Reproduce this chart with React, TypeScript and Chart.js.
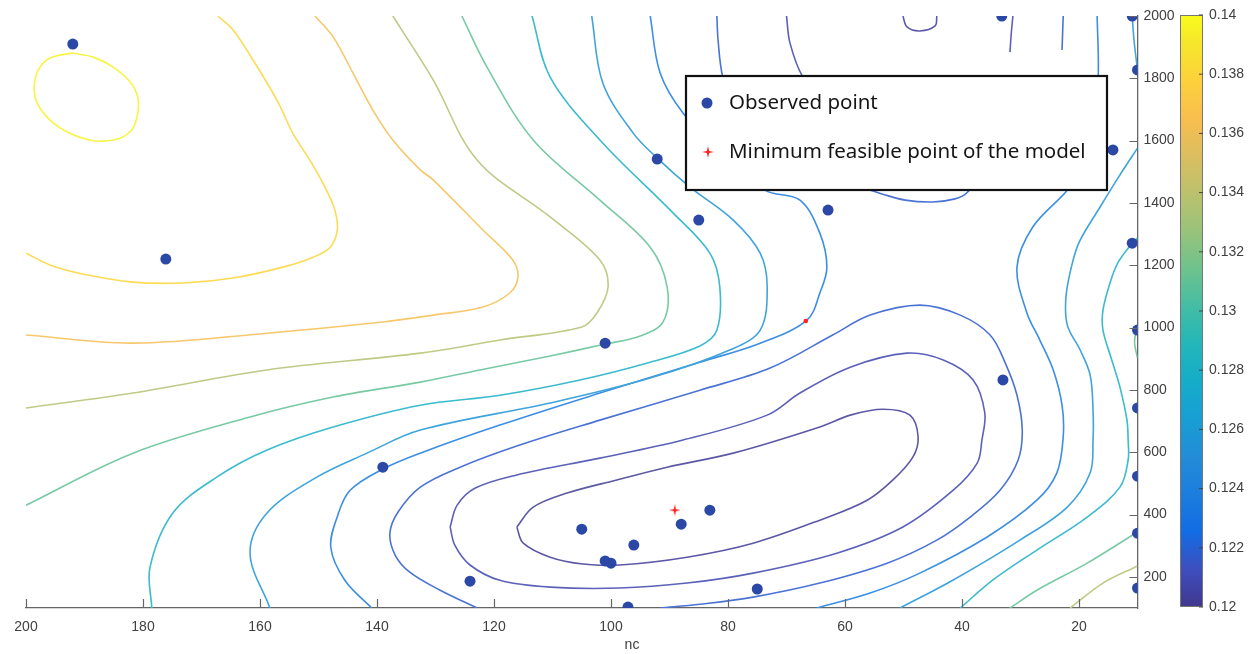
import React, { useEffect, useRef } from "react";
import { Chart, registerables } from "chart.js";
Chart.register(...registerables);

// ---------- axis ticks ----------
const X_TICKS = [200, 180, 160, 140, 120, 100, 80, 60, 40, 20];
const Y_TICKS = [200, 400, 600, 800, 1000, 1200, 1400, 1600, 1800, 2000];
const CBAR_TICKS = [0.12, 0.122, 0.124, 0.126, 0.128, 0.13, 0.132, 0.134, 0.136, 0.138, 0.14];
const CBAR_MIN = 0.12;
const CBAR_MAX = 0.14;

// ---------- observed points (nc, value) ----------
const OBS_NC = [192.0, 176.1, 92.1, 85.0, 62.9, 33.2, 10.9, 10, 14.2, 10.9, 10, 33.0, 10, 10, 10, 10, 101.0, 105.0, 88.0, 83.1, 96.1, 101.0, 100.0, 124.1, 75.0, 97.1, 139.0];
const OBS_Y = [1910, 1220, 1541, 1345, 1377, 2000, 2000, 1827, 1570, 1271, 992, 832, 742, 523, 340, 164, 950, 353, 369, 414, 302, 251, 244, 186, 161, 103, 552];

const MIN_NC = [89.1];
const MIN_Y = [414];
const MARK_NC = [66.7];
const MARK_Y = [1021];

// ---------- contour lines ([nc, y] pairs) ----------
const C_1396_LOOP = [[192.1,1881],[188.5,1868],[185.1,1836],[182.2,1788],[180.9,1740],[180.9,1689],[181.7,1640],[183.4,1612],[185.1,1602],[188.2,1599],[192.5,1624],[195.9,1666],[198.1,1721],[198.6,1772],[197.9,1827],[195.9,1865],[192.1,1881]];
const C_1380 = [[167.2,2000],[164.6,1955],[161.2,1859],[157.1,1730],[154.4,1624],[151.5,1538],[148.9,1451],[147.2,1377],[146.8,1313],[148.0,1258],[150.9,1226],[156.1,1194],[164.6,1159],[173.2,1143],[181.7,1146],[190.3,1172],[195.9,1201],[200,1239]];
const C_1364 = [[150.6,2000],[147.5,1933],[144.1,1817],[140.7,1698],[137.3,1602],[132.6,1506],[130.4,1474],[121.9,1313],[116.8,1217],[115.9,1162],[117.3,1111],[121.9,1066],[130.4,1040],[139.0,1018],[158.8,982],[181.7,950],[200,976]];
const C_1336_LEFT = [[137.3,2000],[136.1,1965],[130.4,1795],[122.9,1538],[110.4,1355],[101.9,1217],[100.5,1130],[102.4,1047],[105.0,1002],[119.0,960],[132.6,918],[158.8,864],[181.7,790],[200,742]];
const C_1336_RIGHT = [[10,235],[15.9,180],[21.5,100]];
const C_1310_LEFT = [[125.5,2000],[121.2,1836],[113.3,1602],[101.9,1409],[93.3,1258],[90.4,1130],[91.1,1018],[95.0,973],[101.0,947],[110.4,909],[122.4,864],[132.6,825],[147.5,777],[161.7,713],[181.7,597],[200,430]];
const C_1310_RIGHT = [[10,344],[18.6,244],[27.2,157],[31.8,100]];
const C_1310_EDGE = [[10,1005],[10.5,954],[10,902]];
const C_1280_LEFT = [[113.5,2000],[110.4,1804],[101.9,1602],[89.4,1368],[83.1,1239],[81.4,1130],[81.9,992],[84.8,941],[93.3,889],[105.3,832],[119.0,783],[132.6,751],[147.5,681],[158.8,607],[167.4,520],[174.9,405],[178.8,231],[178.5,100]];
const C_1280_RIGHT = [[10,1287],[10.9,1271],[13.3,1210],[14.7,1143],[15.9,1056],[15.9,992],[14.4,896],[13.0,809],[11.8,703],[11.6,639],[11.6,575],[13.0,488],[18.6,392],[27.2,286],[34.7,190],[40.3,100]];
const C_1256_LEFT = [[103.3,2000],[101.4,1785],[96.2,1624],[92.1,1544],[86.5,1451],[79.1,1345],[74.5,1239],[73.3,1130],[74.5,992],[79.7,928],[93.3,838],[110.4,758],[132.6,671],[141.7,597],[150.3,520],[158.8,405],[161.7,276],[158.3,100]];
const C_1256_RIGHT = [[10,1576],[13.0,1490],[16.4,1387],[19.8,1281],[21.0,1217],[22.2,1104],[22.0,1008],[19.8,928],[18.1,848],[17.6,735],[17.6,639],[18.1,533],[22.0,424],[30.1,318],[41.5,190],[50.6,100]];
const C_1256_CORNER = [[10.9,2000],[10.6,1923],[10,1827]];
const C_1236_LEFT = [[93.3,2000],[91.6,1817],[87.7,1689],[81.4,1570],[73.7,1441],[67.7,1409],[64.3,1303],[63.1,1194],[64.3,1111],[66.5,1024],[74.5,950],[84.8,889],[101.9,790],[119.0,687],[132.6,597],[139.0,546],[144.6,478],[146.7,398],[147.9,295],[145.5,189],[140.9,100]];
const C_1236_RIGHT = [[16.9,2000],[16.7,1817],[17.3,1666],[19.8,1506],[22.0,1441],[27.9,1323],[30.6,1194],[28.9,1047],[26.7,960],[24.4,864],[22.9,751],[22.7,649],[23.8,533],[27.2,446],[35.7,328],[47.2,212],[55.7,148],[64.8,100]];
const C_1218_MAIN = [[122.9,100],[129.2,157],[134.4,215],[136.9,270],[137.8,340],[136.4,408],[132.6,488],[125.8,552],[115.6,623],[101.9,703],[84.8,799],[72.8,870],[62.1,976],[55.7,1040],[47.2,1072],[40.3,1040],[35.2,976],[32.6,886],[30.6,783],[29.7,671],[30.4,575],[33.5,478],[38.6,392],[44.3,318],[52.8,244],[64.3,180],[75.7,135],[84.8,112],[91.6,100]];
const C_1218_TOP = [[81.9,2000],[81.7,1923],[80.9,1804],[78.0,1634],[67.7,1490],[55.7,1441],[53.7,1429],[49.7,1409],[45.0,1403],[41.2,1413],[39.2,1432],[36.1,1506],[33.5,1634]];
const C_1218_SEG = [[22.7,2000],[22.9,1891]];
const C_1208_LOOP = [[127.5,360],[126.3,430],[123.2,485],[116.1,527],[101.9,581],[87.7,639],[73.3,719],[67.7,790],[59.1,873],[49.4,918],[43.2,896],[38.1,832],[36.1,726],[36.6,639],[37.4,565],[41.5,478],[50.1,360],[61.4,276],[75.7,212],[87.0,180],[98.5,164],[110.4,167],[119.0,189],[124.1,238],[126.7,302],[127.5,360]];
const C_1208_TOP = [[70.0,2000],[69.4,1913],[67.2,1804],[62.6,1698]];
const C_1208_SEG = [[31.3,2000],[31.6,1939],[31.8,1884]];
const C_1202_LOOP = [[116.1,360],[113.3,424],[107.5,469],[99.0,511],[90.4,552],[79.1,597],[64.3,681],[59.1,719],[53.5,738],[48.9,719],[47.5,649],[48.4,584],[51.8,511],[56.2,446],[64.3,382],[75.7,308],[87.0,263],[98.5,238],[104.8,241],[110.4,263],[115.0,308],[116.1,360]];
const C_1202_CUP = [[50.1,2000],[49.4,1965],[47.2,1952],[44.6,1968],[44.3,2000]];

const CONTOURS: { level: number; pts: number[][] }[] = [
  { level: 0.1396, pts: C_1396_LOOP },
  { level: 0.138, pts: C_1380 },
  { level: 0.1364, pts: C_1364 },
  { level: 0.1336, pts: C_1336_LEFT },
  { level: 0.1336, pts: C_1336_RIGHT },
  { level: 0.131, pts: C_1310_LEFT },
  { level: 0.131, pts: C_1310_RIGHT },
  { level: 0.131, pts: C_1310_EDGE },
  { level: 0.128, pts: C_1280_LEFT },
  { level: 0.128, pts: C_1280_RIGHT },
  { level: 0.1256, pts: C_1256_LEFT },
  { level: 0.1256, pts: C_1256_RIGHT },
  { level: 0.1256, pts: C_1256_CORNER },
  { level: 0.1236, pts: C_1236_LEFT },
  { level: 0.1236, pts: C_1236_RIGHT },
  { level: 0.1218, pts: C_1218_MAIN },
  { level: 0.1218, pts: C_1218_TOP },
  { level: 0.1218, pts: C_1218_SEG },
  { level: 0.1208, pts: C_1208_LOOP },
  { level: 0.1208, pts: C_1208_TOP },
  { level: 0.1208, pts: C_1208_SEG },
  { level: 0.1202, pts: C_1202_LOOP },
  { level: 0.1202, pts: C_1202_CUP },
];

// ---------- styles ----------
const PARULA: number[][] = [
  [0, 53, 42, 135], [0.0635, 50, 67, 186], [0.127, 3, 99, 225], [0.19, 13, 117, 220],
  [0.254, 20, 133, 212], [0.317, 9, 152, 209], [0.381, 6, 167, 198], [0.444, 21, 177, 180],
  [0.508, 56, 185, 158], [0.571, 101, 190, 134], [0.635, 146, 191, 115], [0.698, 183, 189, 100],
  [0.762, 217, 186, 86], [0.825, 248, 186, 68], [0.889, 252, 206, 46], [0.952, 245, 228, 29],
  [1, 249, 251, 14],
];
function parula(t: number, wash: number): string {
  t = Math.max(0, Math.min(1, t));
  for (let i = 1; i < PARULA.length; i++) {
    const a = PARULA[i - 1], b = PARULA[i];
    if (t <= b[0]) {
      const f = (t - a[0]) / (b[0] - a[0]);
      const c = [1, 2, 3].map((k) => {
        const v = a[k] + (b[k] - a[k]) * f;
        return Math.round(v + (255 - v) * wash);
      });
      return `rgb(${c[0]},${c[1]},${c[2]})`;
    }
  }
  return "rgb(249,251,14)";
}
const levelColor = (v: number) => parula((v - CBAR_MIN) / (CBAR_MAX - CBAR_MIN), 0.2);

const AXIS = "#666666";
const TXT = "#404040";
const BLUE = "#2b48a6";
const RED = "#ff2020";
const TICK_FONT = "14px 'Liberation Sans', Arial, sans-serif";

function makeStar(size: number, color: string): HTMLCanvasElement {
  const c = document.createElement("canvas");
  c.width = size;
  c.height = size;
  const g = c.getContext("2d")!;
  const m = size / 2, R = size / 2, r = size * 0.13;
  g.beginPath();
  for (let i = 0; i < 8; i++) {
    const ang = -Math.PI / 2 + (i * Math.PI) / 4;
    const rad = i % 2 === 0 ? R : r;
    g.lineTo(m + rad * Math.cos(ang), m + rad * Math.sin(ang));
  }
  g.closePath();
  g.fillStyle = color;
  g.fill();
  return c;
}

export default function App() {
  const ref = useRef<HTMLCanvasElement>(null);
  useEffect(() => {
    const star = makeStar(12, RED);
    const decor = {
      id: "decor",
      beforeDraw(chart: any) {
        const { ctx } = chart;
        ctx.save();
        ctx.fillStyle = "#ffffff";
        ctx.fillRect(0, 0, chart.width, chart.height);
        ctx.restore();
      },
      afterDraw(chart: any) {
        const { ctx, chartArea: a, scales } = chart;
        const xs = scales.x, ys = scales.y;
        ctx.save();
        // inward tick marks
        ctx.strokeStyle = AXIS;
        ctx.lineWidth = 1.2;
        ctx.beginPath();
        for (const v of X_TICKS) {
          const px = Math.round(xs.getPixelForValue(v)) + 0.5;
          ctx.moveTo(px, a.bottom);
          ctx.lineTo(px, a.bottom - 9);
        }
        for (const v of Y_TICKS) {
          const py = Math.round(ys.getPixelForValue(v)) + 0.5;
          ctx.moveTo(a.right, py);
          ctx.lineTo(a.right - 8, py);
        }
        ctx.stroke();

        // x title
        ctx.fillStyle = TXT;
        ctx.font = TICK_FONT;
        ctx.textAlign = "center";
        ctx.textBaseline = "middle";
        ctx.fillText("nc", a.left + 606, 645);

        // colorbar
        const cbL = a.right + 42.5, cbW = 23;
        const top = a.top - 1, bot = a.bottom - 1;
        const grad = ctx.createLinearGradient(0, bot, 0, top);
        for (const s of PARULA) grad.addColorStop(s[0], parula(s[0], 0.06));
        ctx.fillStyle = grad;
        ctx.fillRect(cbL, top, cbW, bot - top);
        ctx.strokeStyle = "#777";
        ctx.lineWidth = 1;
        ctx.strokeRect(cbL + 0.5, top + 0.5, cbW - 1, bot - top - 1);
        ctx.fillStyle = TXT;
        ctx.textAlign = "left";
        ctx.textBaseline = "middle";
        ctx.strokeStyle = "#444";
        ctx.beginPath();
        for (const v of CBAR_TICKS) {
          const py = bot - ((v - CBAR_MIN) / (CBAR_MAX - CBAR_MIN)) * (bot - top);
          ctx.moveTo(cbL + cbW, py);
          ctx.lineTo(cbL + cbW - 4, py);
          ctx.fillText(String(Number(v.toFixed(3))), cbL + cbW + 6, py);
        }
        ctx.stroke();

        // legend box
        const lx = 686, ly = 76, lw = 421, lh = 114;
        ctx.fillStyle = "#ffffff";
        ctx.fillRect(lx, ly, lw, lh);
        ctx.strokeStyle = "#111";
        ctx.lineWidth = 2.2;
        ctx.strokeRect(lx, ly, lw, lh);
        ctx.fillStyle = BLUE;
        ctx.beginPath();
        ctx.arc(lx + 21, ly + 27, 5.5, 0, Math.PI * 2);
        ctx.fill();
        ctx.drawImage(star, lx + 22 - 6, ly + 76 - 6);
        ctx.fillStyle = "#161616";
        ctx.font = "20.5px 'Noto Sans', 'Open Sans', sans-serif";
        ctx.textAlign = "left";
        ctx.textBaseline = "middle";
        ctx.fillText("Observed point", lx + 43, ly + 27);
        ctx.fillText("Minimum feasible point of the model", lx + 43, ly + 76);
        ctx.restore();
      },
    };

    const datasets: any[] = [
      {
        label: "Observed point",
        data: OBS_NC.map((x, i) => ({ x, y: OBS_Y[i] })),
        showLine: false,
        pointRadius: 5.5,
        pointBackgroundColor: BLUE,
        pointBorderWidth: 0,
        order: 0,
      },
      {
        label: "Minimum feasible point of the model",
        data: MIN_NC.map((x, i) => ({ x, y: MIN_Y[i] })),
        showLine: false,
        pointStyle: star,
        pointRadius: 6,
        order: 0,
      },
      {
        label: "marker",
        data: MARK_NC.map((x, i) => ({ x, y: MARK_Y[i] })),
        showLine: false,
        pointRadius: 2.3,
        pointBackgroundColor: RED,
        pointBorderWidth: 0,
        order: 0,
      },
      ...CONTOURS.map((c) => ({
        label: "contour " + c.level,
        data: c.pts.map(([x, y]) => ({ x, y })),
        showLine: true,
        pointRadius: 0,
        borderColor: levelColor(c.level),
        borderWidth: 1.6,
        tension: 0.35,
        fill: false,
        order: 1,
      })),
    ];

    const tickCb = (v: any) => String(v);
    const chart = new Chart(ref.current!, {
      type: "scatter",
      data: { datasets },
      options: {
        responsive: false,
        animation: false,
        events: [],
        layout: { padding: { left: 26, top: 16, right: 0, bottom: 0 } },
        plugins: { legend: { display: false }, tooltip: { enabled: false } },
        scales: {
          x: {
            type: "linear",
            reverse: true,
            min: 10,
            max: 200,
            position: "bottom",
            afterBuildTicks: (s: any) => {
              s.ticks = X_TICKS.map((v) => ({ value: v }));
            },
            afterFit: (s: any) => {
              s.height = 46;
            },
            grid: { display: false },
            border: { display: true, color: AXIS, width: 1.3 },
            ticks: {
              color: TXT,
              font: { family: "'Liberation Sans', Arial, sans-serif", size: 14 },
              padding: 3,
              maxRotation: 0,
              autoSkip: false,
              callback: tickCb,
            },
          },
          y: {
            type: "linear",
            min: 100,
            max: 2000,
            position: "right",
            afterBuildTicks: (s: any) => {
              s.ticks = Y_TICKS.map((v) => ({ value: v }));
            },
            afterFit: (s: any) => {
              s.width = 112.5;
            },
            grid: { display: false },
            border: { display: true, color: AXIS, width: 1.3 },
            ticks: {
              color: TXT,
              font: { family: "'Liberation Sans', Arial, sans-serif", size: 14 },
              padding: -2,
              autoSkip: false,
              callback: tickCb,
            },
          },
        },
      } as any,
      plugins: [decor],
    });
    return () => chart.destroy();
  }, []);

  return (
    <div style={{ position: "fixed", left: 0, top: 0, width: 1250, height: 654, background: "#fff" }}>
      <canvas ref={ref} width={1250} height={654} style={{ display: "block" }} />
    </div>
  );
}
